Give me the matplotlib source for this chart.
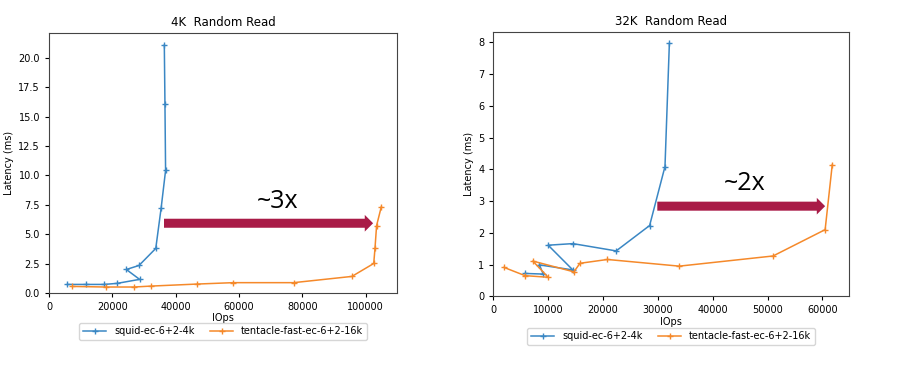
import matplotlib
matplotlib.use("Agg")
import matplotlib.pyplot as plt

# 4K random read
squid_4k_iops = [5800, 11800, 17400, 21500, 28600, 24400, 28400, 33700, 35400, 36800, 36600, 36400]
squid_4k_lat = [0.73, 0.73, 0.73, 0.82, 1.16, 2.0, 2.34, 3.79, 7.23, 10.42, 16.07, 21.07]
tent_4k_iops = [7400, 17900, 26800, 32300, 46600, 58100, 77200, 95600, 102500, 102900, 103400, 104900]
tent_4k_lat = [0.56, 0.51, 0.51, 0.59, 0.76, 0.88, 0.88, 1.41, 2.51, 3.81, 5.73, 7.34]

# 32K random read
squid_32k_iops = [5800, 9100, 8400, 14500, 10000, 14500, 22400, 28500, 31300, 32100]
squid_32k_lat = [0.72, 0.70, 0.99, 0.83, 1.61, 1.66, 1.43, 2.23, 4.09, 7.97]
tent_32k_iops = [1950, 5800, 10000, 7200, 14700, 15800, 20800, 33900, 51000, 60500, 61800]
tent_32k_lat = [0.91, 0.65, 0.60, 1.11, 0.77, 1.04, 1.16, 0.95, 1.27, 2.10, 4.15]

labels = ["squid-ec-6+2-4k", "tentacle-fast-ec-6+2-16k"]
titles = ["4K  Random Read", "32K  Random Read"]
gains = ["~3x", "~2x"]

arrow_col = "#A91B47"

fig = plt.figure(figsize=(9.04, 3.76), dpi=100)
ax1 = fig.add_axes([0.0542, 0.2207, 0.385, 0.6915])
ax2 = fig.add_axes([0.5457, 0.2120, 0.3931, 0.7037])

panels = [
    (ax1, squid_4k_iops, squid_4k_lat, tent_4k_iops, tent_4k_lat,
     (36300, 102300, 5.93), (72000, 7.77), -0.095),
    (ax2, squid_32k_iops, squid_32k_lat, tent_32k_iops, tent_32k_lat,
     (29900, 60500, 2.84), (45900, 3.57), -0.10),
]

for i, (ax, sx, sy, tx, ty, arr, txt, leg_y) in enumerate(panels):
    ax.plot(sx, sy, marker="+", color="#3A87C4", lw=1.1, ms=4, label=labels[0])
    ax.plot(tx, ty, marker="+", color="#F5892A", lw=1.1, ms=4, label=labels[1])
    ax.set_xlim(left=0)
    ax.set_ylim(bottom=0)
    ax.set_title(titles[i], fontsize=8.5, pad=5)
    ax.set_xlabel("IOps", fontsize=7, labelpad=1)
    ax.set_ylabel("Latency (ms)", fontsize=7, labelpad=3)
    ax.tick_params(labelsize=7, length=3)
    for s in ax.spines.values():
        s.set_color("#444444")
    ax.annotate("", xy=(arr[1], arr[2]), xytext=(arr[0], arr[2]),
                arrowprops=dict(width=6.5, headwidth=12, headlength=6, shrink=0,
                                color=arrow_col, lw=0))
    ax.text(txt[0], txt[1], gains[i], fontsize=18, ha="center", va="center",
            family="Open Sans")
    ax.legend(loc="upper center", bbox_to_anchor=(0.5, leg_y), ncol=2,
              fontsize=7, columnspacing=1.6, handlelength=2.4)

fig.savefig("out.png", dpi=100)
